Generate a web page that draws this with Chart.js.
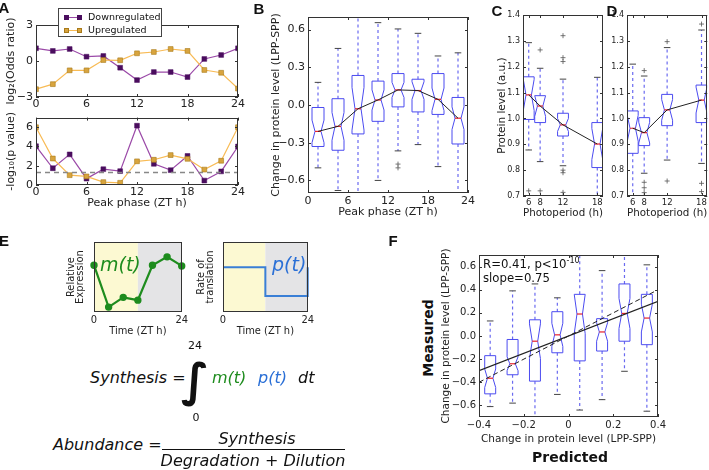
<!DOCTYPE html>
<html>
<head>
<meta charset="utf-8">
<script src="https://cdn.jsdelivr.net/npm/chart.js@4.4.0/dist/chart.umd.min.js"></script>
<style>
  body { margin: 0; background: #fff; }
  #page { position: relative; width: 709px; height: 470px; overflow: hidden; background: #fff; font-family: 'DejaVu Sans', sans-serif; color: #111; }
  canvas { position: absolute; }
  .c { position: absolute; white-space: nowrap; line-height: 1; transform: translate(-50%, -50%); }
  .l { position: absolute; white-space: nowrap; line-height: 1; transform: translate(0, -50%); }
  .letter { font: bold 15px 'Liberation Sans', Arial, sans-serif; }
  .eq { font-style: italic; font-size: 16px; }
  .legend { position: absolute; left: 58px; top: 8px; width: 104px; height: 29px; border: 1px solid #444; background: #fff; z-index: 2; box-sizing: border-box; }
  .legend .ln { position: absolute; height: 1px; width: 13px; left: 7px; }
  .legend .mk { position: absolute; width: 5px; height: 5px; }
  .legend .tx { position: absolute; left: 29px; font-size: 9.5px; line-height: 1; transform: translateY(-50%); }
</style>
</head>
<body>
<div id="page">
  <canvas id="aTop" width="246" height="112" style="left:0px;top:0px"></canvas>
  <canvas id="aBot" width="246" height="104" style="left:0px;top:108px"></canvas>
  <canvas id="bBox" width="215" height="222" style="left:262px;top:0px"></canvas>
  <canvas id="cBox" width="120" height="222" style="left:488px;top:0px"></canvas>
  <canvas id="dBox" width="109" height="222" style="left:600px;top:0px"></canvas>
  <canvas id="eM" width="135" height="104" style="left:55px;top:236px"></canvas>
  <canvas id="eP" width="131" height="104" style="left:185px;top:236px"></canvas>
  <canvas id="fBox" width="232" height="205" style="left:436px;top:245px"></canvas>

  <div class="legend">
    <span class="ln" style="top:8px;background:#9b4aa8"></span>
    <span class="mk" style="left:5px;top:6px;background:#4a0d5e"></span>
    <span class="mk" style="left:18px;top:6px;background:#4a0d5e"></span>
    <span class="tx" style="top:8px">Downregulated</span>
    <span class="ln" style="top:21px;background:#f8bb55"></span>
    <span class="mk" style="left:5px;top:19px;background:#d8a43e;outline:1px solid #a87a1a;outline-offset:-1px"></span>
    <span class="mk" style="left:18px;top:19px;background:#d8a43e;outline:1px solid #a87a1a;outline-offset:-1px"></span>
    <span class="tx" style="top:21px">Upregulated</span>
  </div>

  <div class="c letter" style="left:4px;top:7px">A</div>
  <div class="c letter" style="left:259px;top:8px">B</div>
  <div class="c letter" style="left:497px;top:10px">C</div>
  <div class="c letter" style="left:612px;top:10px">D</div>
  <div class="c letter" style="left:4px;top:240px">E</div>
  <div class="c letter" style="left:393px;top:240px">F</div>

  <div class="l eq" style="left:100px;top:264px;font-size:19px;color:#1e8c1e">m(t)</div>
  <div class="l eq" style="left:272px;top:264px;font-size:19px;color:#2a6fd6">p(t)</div>

  <div class="l eq" style="left:90px;top:378px">Synthesis =</div>
  <div class="c" style="left:195px;top:345px;font-size:11px">24</div>
  <div class="c" style="left:195px;top:380px;font-size:46px;font-weight:bold">&#8747;</div>
  <div class="c" style="left:196px;top:417px;font-size:11px">0</div>
  <div class="l eq" style="left:212px;top:378px;color:#1e8c1e">m(t)</div>
  <div class="l eq" style="left:258px;top:378px;color:#2a6fd6">p(t)</div>
  <div class="l eq" style="left:298px;top:378px">dt</div>
  <div class="l eq" style="left:53px;top:445px">Abundance =</div>
  <div style="position:absolute;left:162px;top:449px;width:183px;height:1px;background:#111"></div>
  <div class="c eq" style="left:257px;top:439px">Synthesis</div>
  <div class="c eq" style="left:253px;top:461px">Degradation + Dilution</div>

  <div class="l" style="left:483px;top:263px;font-size:13px;font-family:'DejaVu Sans Condensed','DejaVu Sans',sans-serif">R=0.41, p&lt;10<sup style="font-size:9px;vertical-align:5px">-10</sup></div>
  <div class="l" style="left:483px;top:277px;font-size:13px;font-family:'DejaVu Sans Condensed','DejaVu Sans',sans-serif">slope=0.75</div>
  <div class="c" style="left:428px;top:338px;font-size:14px;font-weight:bold;transform:translate(-50%,-50%) rotate(-90deg)">Measured</div>
  <div class="c" style="left:570px;top:457px;font-size:14px;font-weight:bold">Predicted</div>
</div>

<script>
// Panel A: enrichment of regulated proteins by peak phase
const phaseHours = [0, 2, 4, 6, 8, 10, 12, 14, 16, 18, 20, 22, 24];
const downOdds = [1.06, 0.84, 1.0, 0.36, 0.42, -0.56, -1.59, -0.92, -0.92, -1.34, 0.17, 0.5, 1.06];
const upOdds = [-2.35, -1.93, -0.78, -0.78, 0.08, 0.06, 0.64, 0.75, 1.0, 0.84, -0.75, -0.98, -2.3];
const downLogP = [4.03, 1.74, 3.18, 0.66, 1.64, 1.44, 6.16, 2.2, 1.54, 3.02, 0.46, 1.41, 4.0];
const upLogP = [6.0, 2.75, 1.02, 0.89, 0.3, 0.23, 2.46, 2.62, 3.11, 2.72, 1.6, 2.52, 6.0];
const pThreshold = 1.3;
const phaseTicks = [0, 6, 12, 18, 24];
const oddsTicks = [-3, 0, 3];
const logPTicks = [0, 2, 4, 6];

// Panel B: change in protein level by peak phase (box stats)
const bPhase = [1.5, 4.5, 7.5, 10.5, 13.5, 16.5, 19.5, 22.5];
const bMed = [-0.21, -0.17, -0.03, 0.04, 0.12, 0.115, 0.045, -0.105];
const bQ1 = [-0.33, -0.36, -0.23, -0.13, -0.015, -0.055, -0.075, -0.31];
const bQ3 = [-0.02, 0.05, 0.235, 0.19, 0.25, 0.205, 0.25, 0.06];
const bLo = [-0.5, -0.68, -0.8, -0.6, -0.365, -0.315, -0.49, -0.8];
const bHi = [0.18, 0.45, 0.8, 0.655, 0.605, 0.57, 0.39, 0.415];
const bNotch = [0.09, 0.11, 0.17, 0.08, 0.06, 0.07, 0.09, 0.09];
const bFliers = [[], [], [], [], [-0.47, -0.5], [], [], []];
const bTicksY = [-0.6, -0.3, 0, 0.3, 0.6];

// Panels C and D: protein level by photoperiod
const photoperiods = [6, 8, 12, 18];
const cMed = [1.091, 1.048, 0.975, 0.901];
const cQ1 = [0.996, 0.984, 0.932, 0.81];
const cQ3 = [1.161, 1.088, 1.02, 0.984];
const cLo = [0.878, 0.833, 0.817, 0.6];
const cHi = [1.293, 1.194, 1.152, 1.159];
const cNotch = [0.06, 0.04, 0.025, 0.06];
const cFliers = [[0.72], [1.265, 0.72], [1.32, 1.235, 1.22, 0.8, 0.79, 0.714], []];
const dMed = [0.962, 0.945, 1.033, 1.071];
const dQ1 = [0.865, 0.895, 0.972, 0.984];
const dQ3 = [1.029, 1.003, 1.093, 1.129];
const dLo = [0.6, 0.788, 0.839, 0.826];
const dHi = [1.21, 1.164, 1.274, 1.342];
const dNotch = [0.05, 0.04, 0.04, 0.05];
const dFliers = [[], [1.185, 0.753, 0.732, 0.713], [1.297, 0.758], [1.365, 0.749, 0.717]];
const photoTicks = [6, 8, 12, 18];
const levelTicks = [0.7, 0.8, 0.9, 1.0, 1.1, 1.2, 1.3, 1.4];

// Panel E: model inputs
const mTime = [0, 4, 8, 12, 16, 20, 24];
const mExpr = [0.67, 0.07, 0.21, 0.17, 0.67, 0.79, 0.66];
const pTime = [0, 12, 12, 24, 24];
const pRate = [0.64, 0.64, 0.23, 0.23, 0.64];
const lightEnd = 12;
const timeTicks = [0, 24];

// Panel F: measured vs predicted
const predBins = [-0.35, -0.25, -0.15, -0.05, 0.05, 0.15, 0.25, 0.35];
const fMed = [-0.365, -0.24, -0.045, 0.01, 0.19, 0.035, 0.195, 0.155];
const fQ1 = [-0.5, -0.335, -0.39, -0.145, -0.215, -0.13, -0.045, -0.075];
const fQ3 = [-0.17, -0.03, 0.14, 0.21, 0.36, 0.15, 0.45, 0.36];
const fLo = [-0.61, -0.58, -0.8, -0.505, -0.64, -0.55, -0.305, -0.65];
const fHi = [0.13, 0.39, 0.45, 0.33, 0.8, 0.565, 0.8, 0.615];
const fNotch = [0.08, 0.06, 0.15, 0.1, 0.17, 0.08, 0.13, 0.12];
const fitX = [-0.4, 0.4];
const fitY = [-0.3, 0.3];
const identityY = [-0.4, 0.4];
const fTicksX = [-0.4, -0.2, 0, 0.2, 0.4];
const fTicksY = [-0.6, -0.4, -0.2, 0, 0.2, 0.4, 0.6];

const FONT = "'DejaVu Sans', sans-serif";
const NARROW = "'Liberation Sans Narrow', 'DejaVu Sans Condensed', sans-serif";
const BOX_BLUE = "#4b4bf0";
const WHISKER_BLUE = "#6a6af0";

const minus = (s) => s.replace("-", "\u2212");
const pts = (xs, ys) => xs.map((x, i) => ({ x: x, y: ys[i] }));

function axis(o) {
  return {
    type: "linear",
    min: o.min,
    max: o.max,
    grid: { display: false, drawTicks: false },
    border: { display: false },
    ticks: {
      display: o.ticks.length > 0,
      font: { family: o.family || FONT, size: o.size || 10 },
      color: "#222",
      padding: o.pad == null ? 2 : o.pad,
      maxRotation: 0,
      autoSkip: false,
      callback: o.fmt || ((v) => String(v)),
    },
    afterBuildTicks: (s) => {
      s.ticks = o.ticks.map((v) => ({ value: v }));
    },
    afterFit: (s) => {
      if (o.w != null) s.width = o.w;
      if (o.h != null) s.height = o.h;
    },
    title: {
      display: !!o.title,
      text: o.title || "",
      font: { family: o.family || FONT, size: o.tsize || 11, lineHeight: o.lh || 1.2 },
      color: "#222",
      padding: o.tpad || 0,
    },
  };
}

// box around the axes with small inward ticks, matplotlib style
function frame(tickLen) {
  return {
    id: "frame",
    afterDraw(chart) {
      const { ctx, chartArea: a, scales } = chart;
      ctx.save();
      ctx.strokeStyle = "#333";
      ctx.lineWidth = 1;
      ctx.strokeRect(Math.round(a.left) + 0.5, Math.round(a.top) + 0.5, Math.round(a.width) - 1, Math.round(a.height) - 1);
      if (tickLen > 0) {
        ctx.beginPath();
        scales.x.ticks.forEach((t) => {
          const px = Math.round(scales.x.getPixelForValue(t.value)) + 0.5;
          ctx.moveTo(px, a.bottom); ctx.lineTo(px, a.bottom - tickLen);
          ctx.moveTo(px, a.top); ctx.lineTo(px, a.top + tickLen);
        });
        scales.y.ticks.forEach((t) => {
          const py = Math.round(scales.y.getPixelForValue(t.value)) + 0.5;
          ctx.moveTo(a.left, py); ctx.lineTo(a.left + tickLen, py);
          ctx.moveTo(a.right, py); ctx.lineTo(a.right - tickLen, py);
        });
        ctx.stroke();
      }
      ctx.restore();
    },
  };
}

// notched box plots drawn through the chart's own scales
function boxPlot(b) {
  return {
    id: "boxPlot",
    beforeDatasetsDraw(chart) {
      const { ctx, chartArea: a, scales } = chart;
      const x = scales.x, y = scales.y;
      ctx.save();
      ctx.beginPath();
      ctx.rect(a.left, a.top, a.width, a.height);
      ctx.clip();
      b.pos.forEach((p, i) => {
        const cx = x.getPixelForValue(p);
        const hw = x.getPixelForValue(p + b.halfWidth) - cx;
        const yMed = y.getPixelForValue(b.med[i]);
        const yQ1 = y.getPixelForValue(b.q1[i]);
        const yQ3 = y.getPixelForValue(b.q3[i]);
        const yNlo = y.getPixelForValue(b.med[i] - b.notch[i]);
        const yNhi = y.getPixelForValue(b.med[i] + b.notch[i]);
        const yLo = y.getPixelForValue(b.lo[i]);
        const yHi = y.getPixelForValue(b.hi[i]);

        // whiskers
        ctx.setLineDash([3, 3]);
        ctx.strokeStyle = WHISKER_BLUE;
        ctx.lineWidth = 1.2;
        ctx.beginPath();
        ctx.moveTo(cx, yQ3); ctx.lineTo(cx, yHi);
        ctx.moveTo(cx, yQ1); ctx.lineTo(cx, yLo);
        ctx.stroke();
        ctx.setLineDash([]);

        // caps
        ctx.strokeStyle = "#444";
        ctx.lineWidth = 1;
        ctx.beginPath();
        ctx.moveTo(cx - hw * b.cap, yHi); ctx.lineTo(cx + hw * b.cap, yHi);
        ctx.moveTo(cx - hw * b.cap, yLo); ctx.lineTo(cx + hw * b.cap, yLo);
        ctx.stroke();

        // notched box
        ctx.strokeStyle = BOX_BLUE;
        ctx.lineWidth = 1;
        ctx.beginPath();
        ctx.moveTo(cx - hw, yQ1);
        ctx.lineTo(cx + hw, yQ1);
        ctx.lineTo(cx + hw, yNlo);
        ctx.lineTo(cx + hw / 2, yMed);
        ctx.lineTo(cx + hw, yNhi);
        ctx.lineTo(cx + hw, yQ3);
        ctx.lineTo(cx - hw, yQ3);
        ctx.lineTo(cx - hw, yNhi);
        ctx.lineTo(cx - hw / 2, yMed);
        ctx.lineTo(cx - hw, yNlo);
        ctx.closePath();
        ctx.stroke();

        // median
        ctx.strokeStyle = "#e8202a";
        ctx.lineWidth = 1.2;
        ctx.beginPath();
        ctx.moveTo(cx - hw / 2, yMed); ctx.lineTo(cx + hw / 2, yMed);
        ctx.stroke();

        // outliers
        ctx.strokeStyle = "#555";
        ctx.lineWidth = 0.8;
        (b.fliers ? b.fliers[i] : []).forEach((v) => {
          const fy = y.getPixelForValue(v);
          ctx.beginPath();
          ctx.moveTo(cx - 2.5, fy); ctx.lineTo(cx + 2.5, fy);
          ctx.moveTo(cx, fy - 2.5); ctx.lineTo(cx, fy + 2.5);
          ctx.stroke();
        });
      });
      ctx.restore();
    },
  };
}

function lightDark(endHour) {
  return {
    id: "lightDark",
    beforeDraw(chart) {
      const { ctx, chartArea: a, scales } = chart;
      const mid = scales.x.getPixelForValue(endHour);
      ctx.save();
      ctx.fillStyle = "#fcf9d2";
      ctx.fillRect(a.left, a.top, mid - a.left, a.height);
      ctx.fillStyle = "#e4e4e6";
      ctx.fillRect(mid, a.top, a.right - mid, a.height);
      ctx.restore();
    },
  };
}

function makeChart(id, datasets, pad, x, y, plugins) {
  return new Chart(document.getElementById(id), {
    type: "line",
    data: { datasets: datasets },
    options: {
      responsive: false,
      animation: false,
      events: [],
      layout: { padding: Object.assign({ left: 0, right: 0, top: 0, bottom: 0 }, pad) },
      plugins: { legend: { display: false }, tooltip: { enabled: false } },
      scales: { x: axis(x), y: axis(y) },
    },
    plugins: plugins,
  });
}

function medianLine(xs, ys) {
  return { data: pts(xs, ys), borderColor: "#222", borderWidth: 1, pointRadius: 0, tension: 0 };
}

// ---- Panel A ----
const purpleLine = { borderColor: "#9b4aa8", borderWidth: 1.2, pointStyle: "rect", pointRadius: 3.4, pointBackgroundColor: "#4a0d5e", pointBorderColor: "#4a0d5e", pointBorderWidth: 0.5 };
const orangeLine = { borderColor: "#f8bb55", borderWidth: 1.2, pointStyle: "rect", pointRadius: 3.4, pointBackgroundColor: "#d8a43e", pointBorderColor: "#a87a1a", pointBorderWidth: 0.6 };

makeChart(
  "aTop",
  [
    Object.assign({ data: pts(phaseHours, upOdds) }, orangeLine),
    Object.assign({ data: pts(phaseHours, downOdds) }, purpleLine),
  ],
  { top: 25, right: 5 },
  { min: 0, max: 24, ticks: phaseTicks, h: 15, size: 11, pad: 1 },
  { min: -3, max: 3, ticks: oddsTicks, w: 36, size: 11, pad: 3, fmt: (v) => minus(String(v)), title: "log\u2082(Odds ratio)", tsize: 11, tpad: 5 },
  [frame(3)]
);

makeChart(
  "aBot",
  [
    { data: pts([0, 24], [pThreshold, pThreshold]), borderColor: "#888", borderWidth: 1.5, borderDash: [5, 4], pointRadius: 0 },
    Object.assign({ data: pts(phaseHours, upLogP) }, orangeLine),
    Object.assign({ data: pts(phaseHours, downLogP) }, purpleLine),
  ],
  { top: 6, right: 5 },
  { min: 0, max: 24, ticks: phaseTicks, h: 27, size: 11, pad: 1, title: "Peak phase (ZT h)", tsize: 11, tpad: 2 },
  { min: 0, max: 7, ticks: logPTicks, w: 36, size: 11, pad: 3, title: "-log\u2081\u2080(p value)", tsize: 11, tpad: 5 },
  [frame(3)]
);

// ---- Panel B ----
makeChart(
  "bBox",
  [medianLine(bPhase, bMed)],
  { top: 17, right: 6 },
  { min: 0, max: 24, ticks: phaseTicks, h: 29, size: 11, pad: 2, title: "Peak phase (ZT h)", tsize: 11, tpad: 3 },
  { min: -0.7, max: 0.7, ticks: bTicksY, w: 46, size: 11, pad: 3, fmt: (v) => minus(v.toFixed(1)), title: "Change in protein level (LPP-SPP)", tsize: 11, tpad: 8 },
  [boxPlot({ pos: bPhase, med: bMed, q1: bQ1, q3: bQ3, lo: bLo, hi: bHi, notch: bNotch, fliers: bFliers, halfWidth: 0.9, cap: 0.55 }), frame(3)]
);

// ---- Panels C and D ----
makeChart(
  "cBox",
  [medianLine(photoperiods, cMed)],
  { top: 15, right: 5 },
  { min: 5, max: 19, ticks: photoTicks, h: 26, size: 8.5, pad: 2, title: "Photoperiod (h)", tsize: 10.5, tpad: 2 },
  { min: 0.7, max: 1.4, ticks: levelTicks, w: 35, size: 8, pad: 3, fmt: (v) => v.toFixed(1), title: "Protein level (a.u.)", tsize: 10.5, tpad: 8 },
  [boxPlot({ pos: photoperiods, med: cMed, q1: cQ1, q3: cQ3, lo: cLo, hi: cHi, notch: cNotch, fliers: cFliers, halfWidth: 0.95, cap: 0.6 }), frame(3)]
);

makeChart(
  "dBox",
  [medianLine(photoperiods, dMed)],
  { top: 15, right: 1 },
  { min: 5, max: 19, ticks: photoTicks, h: 26, size: 8.5, pad: 2, title: "Photoperiod (h)", tsize: 10.5, tpad: 2 },
  { min: 0.7, max: 1.4, ticks: levelTicks, w: 27, size: 8, pad: 3, fmt: (v) => v.toFixed(1) },
  [boxPlot({ pos: photoperiods, med: dMed, q1: dQ1, q3: dQ3, lo: dLo, hi: dHi, notch: dNotch, fliers: dFliers, halfWidth: 0.95, cap: 0.6 }), frame(3)]
);

// ---- Panel E ----
makeChart(
  "eM",
  [{ data: pts(mTime, mExpr), borderColor: "#1e8c1e", borderWidth: 2.2, pointRadius: 2.6, pointBackgroundColor: "#1e8c1e", pointBorderColor: "#1e8c1e", tension: 0, clip: false }],
  { top: 6, right: 7 },
  { min: 0, max: 24, ticks: timeTicks, h: 28, size: 11, pad: 2, family: NARROW, title: "Time (ZT h)", tsize: 11, lh: 1, tpad: 3 },
  { min: 0, max: 1, ticks: [], w: 39, family: NARROW, title: ["Relative", "Expression"], tsize: 11, lh: 0.85, tpad: 11 },
  [lightDark(lightEnd), frame(0)]
);

makeChart(
  "eP",
  [{ data: pts(pTime, pRate), borderColor: "#3a7fd6", borderWidth: 2, pointRadius: 0, tension: 0, clip: false }],
  { top: 6, right: 5 },
  { min: 0, max: 24, ticks: timeTicks, h: 28, size: 11, pad: 2, family: NARROW, title: "Time (ZT h)", tsize: 11, lh: 1, tpad: 3 },
  { min: 0, max: 1, ticks: [], w: 38, family: NARROW, title: ["Rate of", "translation"], tsize: 11, lh: 0.85, tpad: 11 },
  [lightDark(lightEnd), frame(0)]
);

// ---- Panel F ----
makeChart(
  "fBox",
  [
    { data: pts(fitX, fitY), borderColor: "#222", borderWidth: 1.2, pointRadius: 0 },
    { data: pts(fitX, identityY), borderColor: "#222", borderWidth: 1, borderDash: [5, 3], pointRadius: 0 },
  ],
  { top: 10, right: 5 },
  { min: -0.4, max: 0.4, ticks: fTicksX, h: 33, size: 10, pad: 2, fmt: (v) => (v === 0 ? "0" : minus(v.toFixed(1))), title: "Change in protein level (LPP-SPP)", tsize: 10.5, tpad: 4 },
  { min: -0.7, max: 0.7, ticks: fTicksY, w: 43, size: 10, pad: 3, fmt: (v) => minus(v.toFixed(1)), title: "Change in protein level (LPP-SPP)", tsize: 10.5, tpad: 4 },
  [boxPlot({ pos: predBins, med: fMed, q1: fQ1, q3: fQ3, lo: fLo, hi: fHi, notch: fNotch, halfWidth: 0.0245, cap: 0.6 }), frame(3)]
);
</script>
</body>
</html>
